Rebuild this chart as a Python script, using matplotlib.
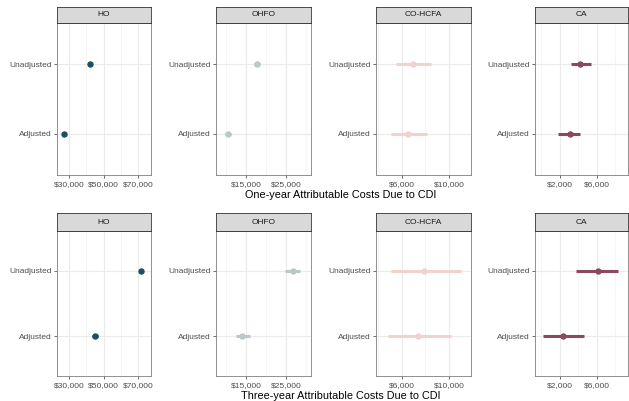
import numpy as np
import matplotlib.pyplot as plt
from matplotlib.ticker import FuncFormatter, FixedLocator

plt.rcParams['font.family'] = ['Liberation Sans', 'DejaVu Sans']

# panels (same order in both rows)
panels = ['HO', 'OHFO', 'CO-HCFA', 'CA']
cols = ['#1d4e63', '#b9c8c9', '#efd3cc', '#8a4a5c']
rows = ['Adjusted', 'Unadjusted']

# one-year: estimate, low, high  (Adjusted, Unadjusted)
one_est = [[27100, 42000], [10500, 17750], [6540, 6900], [3070, 4250]]
one_lo = [[26700, 41500], [9750, 17000], [5060, 5490], [1820, 3180]]
one_hi = [[27500, 42500], [11250, 18500], [8100, 8490], [4150, 5430]]

# three-year
three_est = [[44900, 71700], [13900, 26750], [7340, 7850], [2360, 6180]]
three_lo = [[43500, 70500], [12500, 24750], [4840, 5060], [140, 3720]]
three_hi = [[46500, 73000], [16000, 28500], [10140, 11000], [4680, 8360]]

# x axis per column
xlims = [(23000, 77500), (7500, 31250), (3790, 11870), (-680, 9400)]
xmajor = [[30000, 50000, 70000], [15000, 25000], [6000, 10000], [2000, 6000]]
xminor = [[20000, 40000, 60000], [10000, 20000, 30000], [4000, 8000], [0, 4000, 8000]]

titles = ['One-year Attributable Costs Due to CDI',
          'Three-year Attributable Costs Due to CDI']

W, H = 629, 401
fig = plt.figure(figsize=(W / 100, H / 100), dpi=100)

xpix = [(57, 151), (216, 311), (376, 471), (535, 628)]
# (strip top, panel top, panel bottom) in pixels
ypix = [(7, 23, 175), (213, 231, 376)]

money = FuncFormatter(lambda v, p: '${:,.0f}'.format(v))

for r, (est, lo, hi) in enumerate([(one_est, one_lo, one_hi),
                                   (three_est, three_lo, three_hi)]):
    st, pt, pb = ypix[r]
    for c in range(4):
        x0, x1 = xpix[c]
        ax = fig.add_axes([x0 / W, 1 - pb / H, (x1 - x0) / W, (pb - pt) / H])
        yy = np.arange(1, 3)
        ax.hlines(yy, lo[c], hi[c], color=cols[c], lw=2.2, zorder=3)
        ax.plot(est[c], yy, 'o', color=cols[c], ms=3.6, zorder=4)
        ax.set_xlim(xlims[c])
        ax.set_ylim(0.4, 2.6)
        ax.set_yticks(yy)
        ax.set_yticklabels(rows)
        ax.xaxis.set_major_locator(FixedLocator(xmajor[c]))
        ax.xaxis.set_minor_locator(FixedLocator(xminor[c]))
        ax.xaxis.set_major_formatter(money)
        ax.grid(True, which='major', color='#ebebeb', lw=0.8, zorder=0)
        ax.grid(True, which='minor', axis='x', color='#f2f2f2', lw=0.5, zorder=0)
        ax.set_axisbelow(True)
        ax.tick_params(axis='both', which='major', labelsize=6,
                       labelcolor='#4d4d4d', color='#333333', length=2.5,
                       width=0.5, pad=1.5)
        ax.tick_params(axis='x', which='minor', length=0)
        for s in ax.spines.values():
            s.set_color('#7f7f7f')
            s.set_linewidth(0.6)
        # strip
        sx = fig.add_axes([x0 / W, 1 - pt / H, (x1 - x0) / W, (pt - st) / H])
        sx.set_facecolor('#d9d9d9')
        sx.set_xticks([])
        sx.set_yticks([])
        for s in sx.spines.values():
            s.set_color('#333333')
            s.set_linewidth(0.6)
        sx.text(0.5, 0.5, panels[c], ha='center', va='center',
                fontsize=6, color='#1a1a1a', transform=sx.transAxes)
    fig.text(341 / W, 1 - (pb + 20) / H, titles[r], ha='center', va='center',
             fontsize=7.8, color='black')

fig.savefig('out.png', dpi=100)
